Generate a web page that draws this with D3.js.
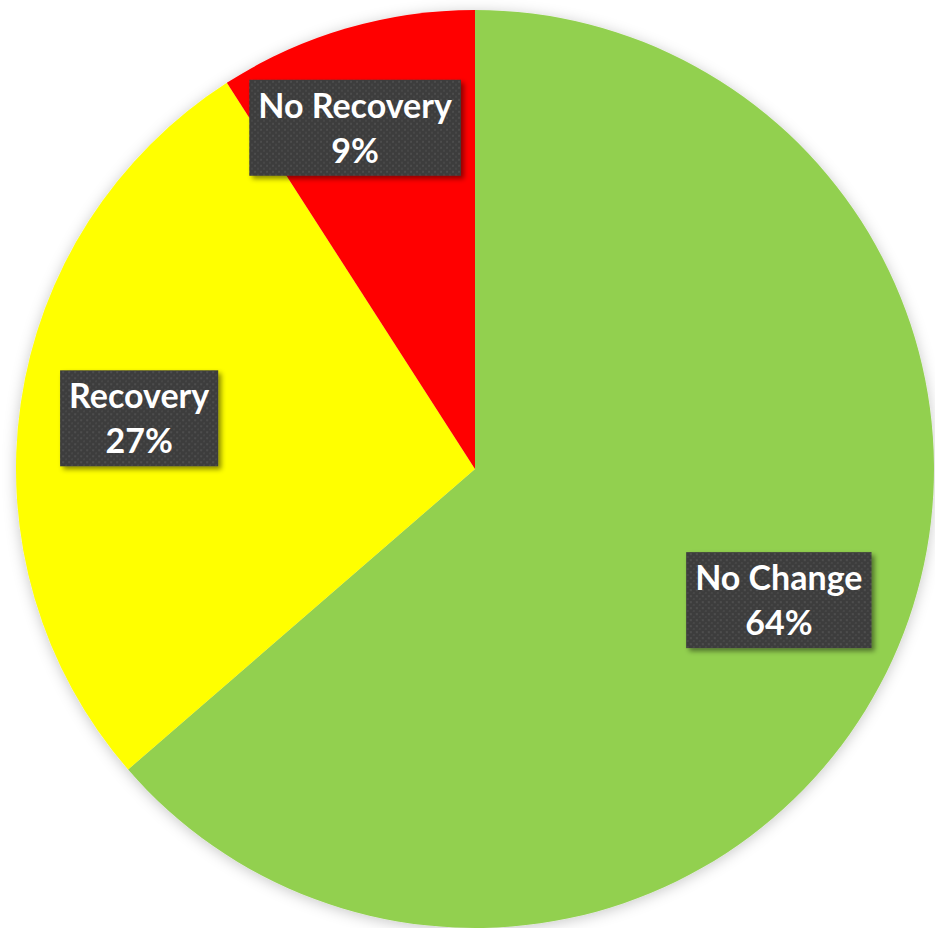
<!DOCTYPE html>
<html>
<head>
<meta charset="utf-8">
<script src="https://cdn.jsdelivr.net/npm/d3@7"></script>
<style>
  body { margin: 0; background: #ffffff; }
  svg { display: block; }
</style>
</head>
<body>
<div id="chart"></div>
<script>
// slice data, clockwise from 12 o'clock
var categories = ['No Change', 'Recovery', 'No Recovery'];
var values = [7, 3, 1];
var percentLabels = ['64%', '27%', '9%'];
var sliceColors = ['#92D050', '#FFFF00', '#FF0000'];
// label placement: fraction of radius, and nudge (degrees) off the slice middle
var labelRadius = [0.721, 0.74, 0.788];
var labelShift = [-1.2, 0.4, -3.0];

var width = 935, height = 928;
var cx = 475, cy = 469, radius = 459;

var svg = d3.select('#chart').append('svg')
    .attr('width', width)
    .attr('height', height);

var defs = svg.append('defs');

var pieShadow = defs.append('filter').attr('id', 'pieShadow')
    .attr('x', '-10%').attr('y', '-10%').attr('width', '120%').attr('height', '120%');
pieShadow.append('feDropShadow')
    .attr('dx', 0).attr('dy', 2).attr('stdDeviation', 7)
    .attr('flood-color', '#000').attr('flood-opacity', 0.22);

var boxShadow = defs.append('filter').attr('id', 'boxShadow')
    .attr('x', '-20%').attr('y', '-20%').attr('width', '140%').attr('height', '140%');
boxShadow.append('feDropShadow')
    .attr('dx', 3).attr('dy', 3).attr('stdDeviation', 2.5)
    .attr('flood-color', '#000').attr('flood-opacity', 0.45);

var dots = defs.append('pattern').attr('id', 'dots')
    .attr('patternUnits', 'userSpaceOnUse')
    .attr('width', 6).attr('height', 6);
dots.append('rect').attr('width', 6).attr('height', 6).attr('fill', '#3d3d3d');
dots.append('rect').attr('x', 1).attr('y', 1).attr('width', 2).attr('height', 2).attr('fill', '#4d4d4d');
dots.append('rect').attr('x', 4).attr('y', 4).attr('width', 2).attr('height', 2).attr('fill', '#474747');

var pie = d3.pie().sort(null).value(function (d) { return d; });
var arcs = pie(values);

var arc = d3.arc().innerRadius(0).outerRadius(radius);

var g = svg.append('g').attr('transform', 'translate(' + cx + ',' + cy + ')');

g.append('g')
    .attr('filter', 'url(#pieShadow)')
    .selectAll('path')
    .data(arcs)
    .enter().append('path')
    .attr('d', arc)
    .attr('fill', function (d, i) { return sliceColors[i]; });

var labels = g.append('g')
    .selectAll('g')
    .data(arcs)
    .enter().append('g')
    .attr('transform', function (d, i) {
        var r = radius * labelRadius[i];
        var shift = labelShift[i] * Math.PI / 180;
        var la = d3.arc().innerRadius(r).outerRadius(r);
        var c = la.centroid({startAngle: d.startAngle + shift, endAngle: d.endAngle + shift});
        return 'translate(' + c[0] + ',' + c[1] + ')';
    });

var fontSize = 34;

labels.each(function (d, i) {
    var lg = d3.select(this);
    var box = lg.append('rect');
    var t1 = lg.append('text')
        .attr('text-anchor', 'middle')
        .attr('y', -10)
        .attr('font-family', 'Lato, "Open Sans", sans-serif')
        .attr('font-weight', 'bold')
        .attr('font-size', fontSize)
        .attr('fill', '#ffffff')
        .text(categories[i]);
    var t2 = lg.append('text')
        .attr('text-anchor', 'middle')
        .attr('y', 35)
        .attr('font-family', 'Lato, "Open Sans", sans-serif')
        .attr('font-weight', 'bold')
        .attr('font-size', fontSize)
        .attr('fill', '#ffffff')
        .text(percentLabels[i]);
    var w = Math.max(t1.node().getComputedTextLength(), t2.node().getComputedTextLength()) + 18;
    var h = 96;
    box.attr('x', -w / 2).attr('y', -h / 2)
        .attr('width', w).attr('height', h)
        .attr('fill', 'url(#dots)')
        .attr('filter', 'url(#boxShadow)');
});
</script>
</body>
</html>
